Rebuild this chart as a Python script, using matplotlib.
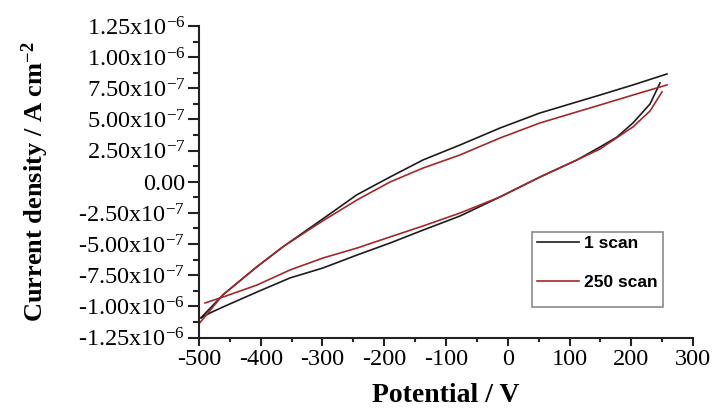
import matplotlib
matplotlib.use("Agg")
import matplotlib.pyplot as plt
from matplotlib.ticker import FixedLocator, FixedFormatter, MultipleLocator
from matplotlib.patches import Rectangle
import numpy as np

# ---------------- data ----------------
# 1 scan: forward (upper) branch and reverse (lower) branch, potential in V, current in uA cm^-2
scan1_up_v = [-496.8, -461.1, -406.1, -364.0, -320.2, -299.2, -244.1, -190.7, -137.2, -77.3, -12.6, 52.2, 149.4, 202.8, 257.9]
scan1_up_i = [-1.092, -0.907, -0.682, -0.522, -0.370, -0.297, -0.104, 0.038, 0.175, 0.295, 0.431, 0.552, 0.696, 0.777, 0.865]
scan1_dn_v = [-496.8, -482.2, -461.1, -406.1, -352.6, -299.2, -244.1, -190.7, -137.2, -77.3, -12.6, 52.2, 112.1, 149.4, 176.9, 202.8, 230.4, 246.6]
scan1_dn_i = [-1.092, -1.053, -1.005, -0.885, -0.772, -0.692, -0.588, -0.492, -0.388, -0.275, -0.122, 0.038, 0.175, 0.279, 0.359, 0.472, 0.624, 0.793]

# 250 scan
scan250_up_v = [-500.0, -461.1, -406.1, -364.0, -320.2, -299.2, -244.1, -190.7, -137.2, -77.3, -12.6, 52.2, 149.4, 202.8, 257.9]
scan250_up_i = [-1.140, -0.907, -0.682, -0.522, -0.380, -0.313, -0.146, -0.002, 0.110, 0.215, 0.351, 0.472, 0.616, 0.696, 0.777]
scan250_dn_v = [-490.3, -461.1, -406.1, -352.6, -299.2, -244.1, -190.7, -137.2, -77.3, -12.6, 52.2, 112.1, 149.4, 202.8, 230.4, 249.8]
scan250_dn_i = [-0.973, -0.925, -0.829, -0.708, -0.612, -0.532, -0.443, -0.355, -0.251, -0.122, 0.038, 0.175, 0.263, 0.440, 0.568, 0.721]

series_labels = ["1 scan", "250 scan"]
series_colors = ["#1c1c1c", "#a3282b"]

x_ticks = [-500, -400, -300, -200, -100, 0, 100, 200, 300]
y_ticks = [1.25e-6, 1.00e-6, 7.5e-7, 5.0e-7, 2.5e-7, 0.0, -2.5e-7, -5.0e-7, -7.5e-7, -1.0e-6, -1.25e-6]
y_tick_labels = [
    r"1.25x10$^{\mathrm{-6}}$", r"1.00x10$^{\mathrm{-6}}$", r"7.50x10$^{\mathrm{-7}}$",
    r"5.00x10$^{\mathrm{-7}}$", r"2.50x10$^{\mathrm{-7}}$", "0.00",
    r"-2.50x10$^{\mathrm{-7}}$", r"-5.00x10$^{\mathrm{-7}}$", r"-7.50x10$^{\mathrm{-7}}$",
    r"-1.00x10$^{\mathrm{-6}}$", r"-1.25x10$^{\mathrm{-6}}$",
]
x_label = "Potential / V"
y_label = r"Current density / A cm$^{\mathbf{-2}}$"

# ---------------- style ----------------
plt.rcParams["font.family"] = ["Liberation Serif", "DejaVu Serif"]
plt.rcParams["mathtext.fontset"] = "custom"
plt.rcParams["mathtext.rm"] = "Liberation Serif"
plt.rcParams["mathtext.bf"] = "Liberation Serif:bold"
plt.rcParams["mathtext.it"] = "Liberation Serif:italic"
plt.rcParams["axes.unicode_minus"] = False

fig = plt.figure(figsize=(7.18, 4.08), dpi=100)
ax = fig.add_axes([199 / 718, 70.5 / 408, 494 / 718, 311.5 / 408])

scale = 1e-6
ax.plot(scan1_up_v, np.array(scan1_up_i) * scale, color=series_colors[0], lw=1.2, label=series_labels[0])
ax.plot(scan1_dn_v, np.array(scan1_dn_i) * scale, color=series_colors[0], lw=1.2)
ax.plot(scan250_up_v, np.array(scan250_up_i) * scale, color=series_colors[1], lw=1.2, label=series_labels[1])
ax.plot(scan250_dn_v, np.array(scan250_dn_i) * scale, color=series_colors[1], lw=1.2)

ax.set_xlim(-500, 300)
ax.set_ylim(-1.25e-6, 1.25e-6)

for s in ("top", "right"):
    ax.spines[s].set_visible(False)
for s in ("left", "bottom"):
    ax.spines[s].set_linewidth(1.5)
    ax.spines[s].set_color("#222222")

ax.xaxis.set_major_locator(FixedLocator(x_ticks))
ax.xaxis.set_minor_locator(MultipleLocator(50))
ax.yaxis.set_major_locator(FixedLocator(y_ticks))
ax.yaxis.set_major_formatter(FixedFormatter(y_tick_labels))
ax.yaxis.set_minor_locator(MultipleLocator(1.25e-7))

ax.tick_params(axis="x", which="major", direction="out", length=6, width=1.5, labelsize=17.5, pad=2, color="#222222")
ax.tick_params(axis="x", which="minor", direction="out", length=3, width=1.5, color="#222222")
ax.tick_params(axis="y", which="major", direction="out", length=8, width=1.5, labelsize=17.5, pad=2, color="#222222")
ax.tick_params(axis="y", which="minor", direction="out", length=4, width=1.5, color="#222222")

ax.set_xlabel(x_label, fontsize=20, fontweight="bold")
ax.xaxis.set_label_coords(0.5, -0.146)
ax.set_ylabel(y_label, fontsize=19, fontweight="bold")
ax.yaxis.set_label_coords(-0.300, 0.5)

# legend box
ax.add_patch(Rectangle((0.674, 0.098), 0.265, 0.241, transform=ax.transAxes,
                       facecolor="white", edgecolor="#8a8a8a", lw=1.2, zorder=3))
leg = ax.legend(loc="upper left", bbox_to_anchor=(0.684, 0.326), frameon=False,
                borderpad=0, borderaxespad=0, handlelength=2.4, handletextpad=0.3,
                labelspacing=1.35, prop={"family": "Liberation Sans", "weight": "bold", "size": 12.5})
leg.set_zorder(4)

fig.savefig("out.png", dpi=100)
